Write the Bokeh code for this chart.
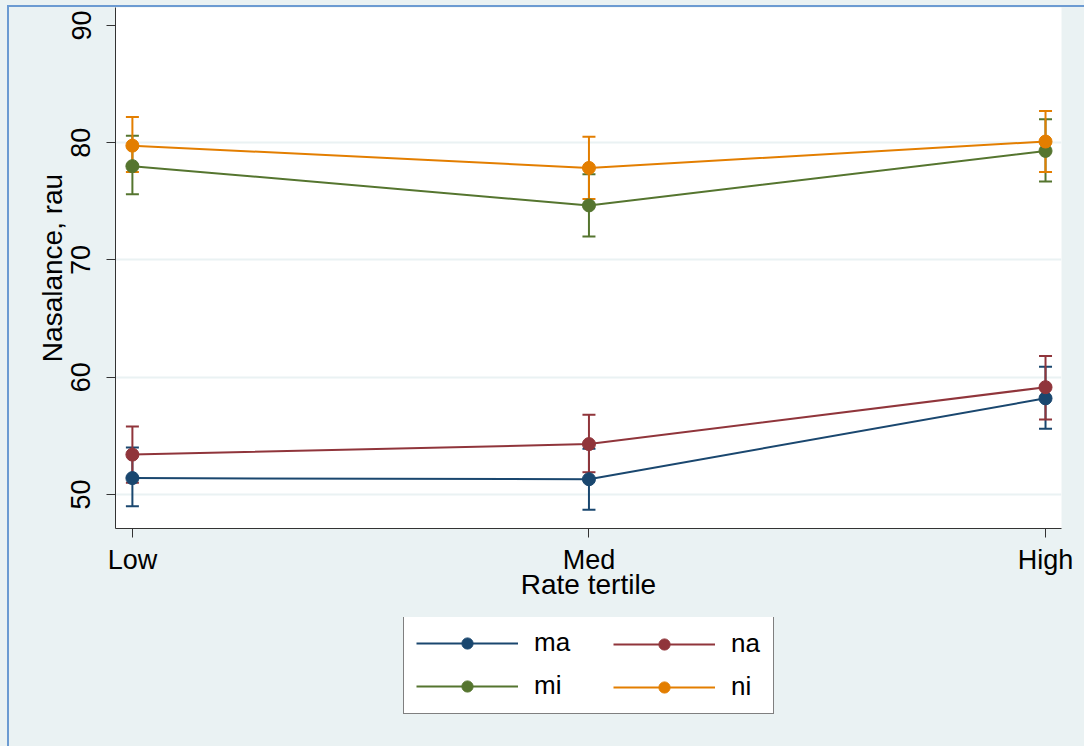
from bokeh.plotting import figure
from bokeh.models import (Range1d, Whisker, TeeHead, ColumnDataSource, Legend,
                          LegendItem, FixedTicker)
from bokeh.layouts import column
from bokeh.embed import file_html
from bokeh.resources import INLINE

# Rate tertiles on the x axis
categories = ["Low", "Med", "High"]
x_pos = [1, 2, 3]
y_ticks = [50, 60, 70, 80, 90]

# Mean nasalance and 95% CI bounds per stimulus
ma_mean = [51.4, 51.3, 58.2]
ma_lo = [49.0, 48.7, 55.6]
ma_hi = [54.0, 53.9, 60.9]

na_mean = [53.4, 54.3, 59.15]
na_lo = [51.0, 51.9, 56.4]
na_hi = [55.8, 56.8, 61.8]

mi_mean = [78.0, 74.65, 79.3]
mi_lo = [75.6, 72.0, 76.7]
mi_hi = [80.6, 77.3, 82.0]

ni_mean = [79.75, 77.85, 80.1]
ni_lo = [77.5, 75.2, 77.5]
ni_hi = [82.2, 80.5, 82.7]

series = [
    ("ma", ma_mean, ma_lo, ma_hi, "#1A476F"),
    ("na", na_mean, na_lo, na_hi, "#90353B"),
    ("mi", mi_mean, mi_lo, mi_hi, "#55752F"),
    ("ni", ni_mean, ni_lo, ni_hi, "#E37E00"),
]

FONT = "Liberation Sans"
BG = "#EAF2F3"
EDGE = "2px solid #6C9BD2"

p = figure(width=1077, height=612, output_backend="svg", toolbar_location=None,
           x_range=Range1d(0.963, 3.035), y_range=Range1d(47.10, 91.53),
           min_border_left=106, min_border_right=25, min_border_top=0,
           min_border_bottom=91)
p.background_fill_color = "white"
p.border_fill_color = BG
p.outline_line_color = None

# axes
for ax in (p.xaxis[0], p.yaxis[0]):
    ax.axis_line_color = "#333333"
    ax.axis_line_width = 1
    ax.major_tick_line_color = "#333333"
    ax.major_tick_out = 9
    ax.major_tick_in = 0
    ax.minor_tick_line_color = None
    ax.major_label_text_font = FONT
    ax.major_label_text_font_size = "27px"
    ax.major_label_text_color = "black"
    ax.axis_label_text_font = FONT
    ax.axis_label_text_font_size = "28px"
    ax.axis_label_text_font_style = "normal"
    ax.axis_label_text_color = "black"

p.xaxis.ticker = FixedTicker(ticks=x_pos)
p.xaxis.major_label_overrides = {x: c for x, c in zip(x_pos, categories)}
p.xaxis.axis_label = "Rate tertile"
p.xaxis.major_label_standoff = 7
p.xaxis.axis_label_standoff = -9

p.yaxis.ticker = FixedTicker(ticks=y_ticks)
p.yaxis.major_label_orientation = "vertical"
p.yaxis.axis_label = "Nasalance, rau"
p.yaxis.major_label_standoff = 16
p.yaxis.axis_label_standoff = 1

p.xgrid.visible = False
p.ygrid.ticker = FixedTicker(ticks=y_ticks[:-1])
p.ygrid.grid_line_color = BG
p.ygrid.grid_line_width = 2

# confidence intervals first, then the connected means on top
for name, mean, lo, hi, color in series:
    src = ColumnDataSource(dict(x=x_pos, lo=lo, hi=hi))
    w = Whisker(source=src, base="x", lower="lo", upper="hi",
                line_color=color, line_width=2,
                upper_head=TeeHead(size=13, line_color=color, line_width=2),
                lower_head=TeeHead(size=13, line_color=color, line_width=2))
    p.add_layout(w)

for name, mean, lo, hi, color in series:
    src = ColumnDataSource(dict(x=x_pos, y=mean))
    p.line("x", "y", source=src, line_color=color, line_width=2)
    p.scatter("x", "y", source=src, size=13, fill_color=color, line_color=color)

# legend strip below the plot; its ranges keep the key renderers out of view
leg_fig = figure(width=1077, height=129, output_backend="svg",
                 toolbar_location=None, min_border=0,
                 x_range=Range1d(-2, -1), y_range=Range1d(0, 1),
                 x_axis_type=None, y_axis_type=None)
leg_fig.background_fill_color = BG
leg_fig.border_fill_color = BG
leg_fig.outline_line_color = None
leg_fig.grid.visible = False

keys = {}
for name, mean, lo, hi, color in series:
    src = ColumnDataSource(dict(x=x_pos, y=mean))
    ln = leg_fig.line("x", "y", source=src, line_color=color, line_width=2)
    sc = leg_fig.scatter("x", "y", source=src, size=12, fill_color=color,
                         line_color=color)
    keys[name] = [ln, sc]

legend_style = dict(
    label_text_font=FONT, label_text_font_size="26px", label_text_color="black",
    glyph_width=102, glyph_height=28, label_height=28, label_standoff=16,
    spacing=12, padding=12, margin=0,
)

# left column carries the frame of the whole legend box
leg_left = Legend(items=[LegendItem(label="ma", renderers=keys["ma"]),
                         LegendItem(label="mi", renderers=keys["mi"])],
                  location=(288, 32), label_width=227,
                  border_line_color="black", border_line_width=1,
                  background_fill_color="white", background_fill_alpha=1,
                  **legend_style)
# borderless legends drop their padding, so this one is offset by hand
leg_right = Legend(items=[LegendItem(label="na", renderers=keys["na"]),
                          LegendItem(label="ni", renderers=keys["ni"])],
                   location=(498, 44), border_line_color=None,
                   background_fill_alpha=0, **legend_style)
leg_fig.add_layout(leg_left, "center")
leg_fig.add_layout(leg_right, "center")

p.styles = {"border-left": EDGE, "border-top": EDGE}
leg_fig.styles = {"border-left": EDGE}
root = column(p, leg_fig, spacing=0,
              styles={"background-color": BG, "padding-left": "7px",
                      "padding-top": "5px"})

open("out.html", "w").write(file_html(root, INLINE))
